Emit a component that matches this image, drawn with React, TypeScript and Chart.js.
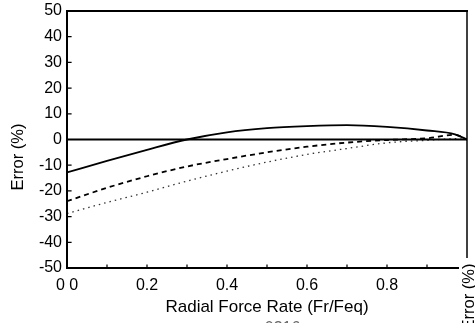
import React, { useEffect, useRef } from 'react';
import { Chart, registerables } from 'chart.js';

Chart.register(...registerables);

// Radial force rate (Fr/Feq)
const xRates = [0, 0.1, 0.2, 0.3, 0.4, 0.5, 0.6, 0.7, 0.8, 0.9, 0.97, 1.0];
// Error (%) series
const solidErr = [-12.8, -8.3, -4.0, 0.0, 2.8, 4.4, 5.2, 5.6, 4.9, 3.5, 2.0, 0.0];
const dashedErr = [-24.0, -18.8, -14.3, -10.5, -7.6, -5.0, -2.8, -1.2, -0.2, 0.5, 1.8, 0.0];
const dottedErr = [-28.8, -24.5, -20.5, -16.2, -12.3, -8.8, -5.8, -3.5, -1.3, -0.3, 0.3, 0.0];
const zeroLine = [0, 0];
const zeroX = [0, 1];
const xTickLabels: Record<string, string> = { '0': '0 0', '0.2': '0.2', '0.4': '0.4', '0.6': '0.6', '0.8': '0.8', '1': '' };

const FONT = '"Liberation Sans", Arial, sans-serif';

const toPts = (xs: number[], ys: number[]) => xs.map((x, i) => ({ x, y: ys[i] }));

const decorPlugin = {
  id: 'decor',
  afterDraw(chart: any) {
    const { ctx, chartArea: a, scales } = chart;
    const xs = scales.x;
    const ys = scales.y;
    ctx.save();
    ctx.strokeStyle = '#000';
    ctx.lineCap = 'square';
    // frame
    ctx.lineWidth = 2;
    ctx.beginPath();
    ctx.moveTo(a.left, a.top);
    ctx.lineTo(a.right, a.top);
    ctx.moveTo(a.left, a.top);
    ctx.lineTo(a.left, a.bottom);
    ctx.lineTo(a.right, a.bottom);
    ctx.stroke();
    ctx.lineWidth = 1.5;
    ctx.beginPath();
    ctx.moveTo(a.right, a.top);
    ctx.lineTo(a.right, a.bottom);
    ctx.stroke();
    // inward ticks
    ctx.lineWidth = 1.2;
    ctx.beginPath();
    for (let v = -50; v <= 50; v += 10) {
      const py = ys.getPixelForValue(v);
      ctx.moveTo(a.left, py);
      ctx.lineTo(a.left + 4, py);
    }
    for (let i = 1; i < 10; i++) {
      const px = xs.getPixelForValue(i / 10);
      ctx.moveTo(px, a.bottom);
      ctx.lineTo(px, a.bottom - 3);
    }
    ctx.stroke();
    // y title
    ctx.fillStyle = '#000';
    ctx.font = `16.5px ${FONT}`;
    ctx.textAlign = 'center';
    ctx.textBaseline = 'middle';
    ctx.save();
    ctx.translate(18, 157);
    ctx.rotate(-Math.PI / 2);
    ctx.fillText('Error (%)', 0, 0);
    ctx.restore();
    // x title
    ctx.font = `17px ${FONT}`;
    ctx.fillText('Radial Force Rate (Fr/Feq)', (a.left + a.right) / 2, 307);
    // clipped right label with white backing
    ctx.fillStyle = '#fff';
    ctx.fillRect(459, 258, 16, 65);
    ctx.fillStyle = '#000';
    ctx.font = `16.5px ${FONT}`;
    ctx.save();
    ctx.translate(469, 297);
    ctx.rotate(-Math.PI / 2);
    ctx.fillText('Error (%)', 0, 0);
    ctx.restore();
    // faint clipped text at bottom
    ctx.fillStyle = '#666';
    ctx.font = `16px ${FONT}`;
    ctx.textAlign = 'left';
    ctx.textBaseline = 'top';
    ctx.fillText('· 0316', 255, 321);
    ctx.restore();
  },
};

export default function App() {
  const ref = useRef<HTMLCanvasElement | null>(null);
  useEffect(() => {
    if (!ref.current) return;
    const chart = new Chart(ref.current, {
      type: 'scatter',
      data: {
        datasets: [
          {
            data: toPts(zeroX, zeroLine),
            showLine: true,
            borderColor: '#000',
            borderWidth: 2,
            pointRadius: 0,
          },
          {
            data: toPts(xRates, solidErr),
            showLine: true,
            borderColor: '#000',
            borderWidth: 1.8,
            pointRadius: 0,
            cubicInterpolationMode: 'monotone',
          },
          {
            data: toPts(xRates, dashedErr),
            showLine: true,
            borderColor: '#000',
            borderWidth: 1.8,
            borderDash: [5, 4],
            pointRadius: 0,
            cubicInterpolationMode: 'monotone',
          },
          {
            data: toPts(xRates, dottedErr),
            showLine: true,
            borderColor: '#333',
            borderWidth: 1.3,
            borderDash: [1.5, 4],
            pointRadius: 0,
            cubicInterpolationMode: 'monotone',
          },
        ],
      } as any,
      options: {
        animation: false,
        responsive: true,
        maintainAspectRatio: false,
        layout: { padding: { top: 11, right: 8, left: 0, bottom: 0 } },
        plugins: { legend: { display: false }, tooltip: { enabled: false } },
        scales: {
          x: {
            type: 'linear',
            min: 0,
            max: 1,
            grid: { display: false, drawTicks: false },
            border: { display: false },
            ticks: {
              stepSize: 0.2,
              padding: 8,
              color: '#000',
              font: { family: FONT, size: 16 },
              maxRotation: 0,
              callback: (v: any) => {
                const k = String(Math.round(Number(v) * 10) / 10);
                return xTickLabels[k] ?? '';
              },
            },
            afterFit: (s: any) => {
              s.height = 55;
              s.paddingLeft = 0;
              s.paddingRight = 0;
            },
          },
          y: {
            min: -50,
            max: 50,
            grid: { display: false, drawTicks: false },
            border: { display: false },
            ticks: {
              stepSize: 10,
              padding: 5,
              color: '#000',
              font: { family: FONT, size: 16 },
            },
            afterFit: (s: any) => {
              s.width = 67;
              s.paddingTop = 0;
              s.paddingBottom = 0;
            },
          },
        },
      } as any,
      plugins: [decorPlugin],
    });
    return () => chart.destroy();
  }, []);
  return (
    <div style={{ position: 'absolute', left: 0, top: 0, width: 475, height: 323, background: '#fff' }}>
      <canvas ref={ref} />
    </div>
  );
}
